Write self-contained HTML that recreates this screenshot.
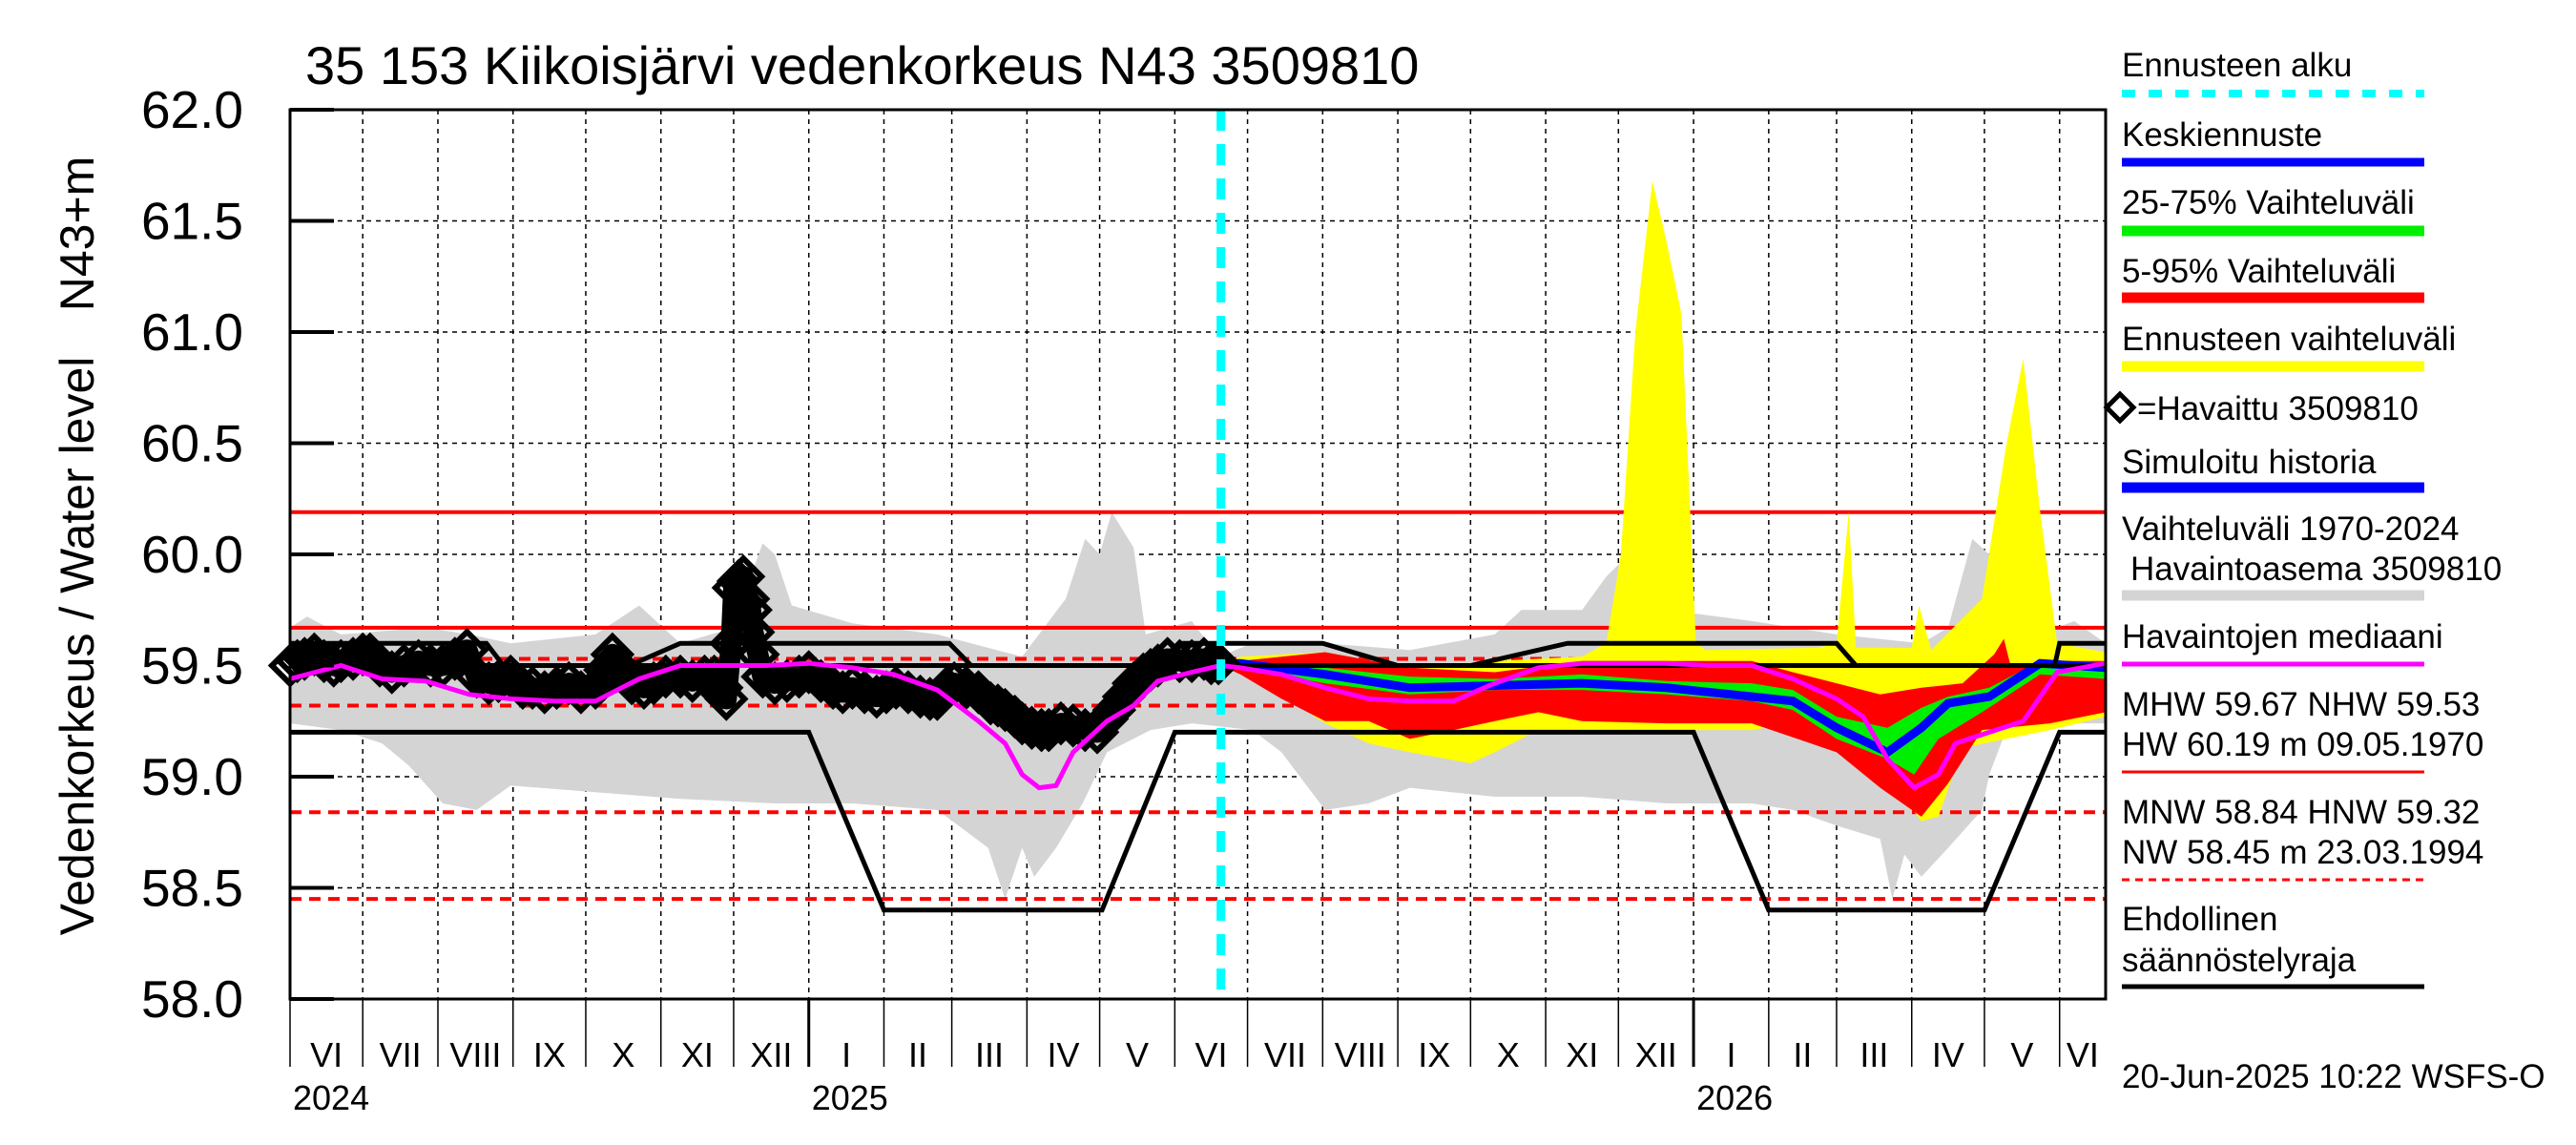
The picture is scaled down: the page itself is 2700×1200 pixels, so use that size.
<!DOCTYPE html>
<html><head><meta charset="utf-8"><style>
html,body{margin:0;padding:0;background:#fff;}
svg{display:block;font-family:"Liberation Sans",Arial,sans-serif;}
</style></head><body>
<svg id="chart" width="2700" height="1200" viewBox="0 0 2700 1200" xmlns="http://www.w3.org/2000/svg">
<rect width="2700" height="1200" fill="#fff"/>
<text x="320" y="88" font-size="56">35 153 Kiikoisjärvi vedenkorkeus N43 3509810</text>
<text transform="translate(98,677) rotate(-90)" font-size="50" text-anchor="middle">Vedenkorkeus / Water level</text>
<text transform="translate(98,245) rotate(-90)" font-size="50" text-anchor="middle">N43+m</text>
<g id="grid"></g>
<g id="series"></g>
<g id="axes"></g>
<g id="legend"></g>
</svg>
<script>
// ---- data (day offsets from 2024-06-01, water level N43+m) ----
const yTicks = [58.0,58.5,59.0,59.5,60.0,60.5,61.0,61.5,62.0];
const monthLabels = ["I","II","III","IV","V","VI","VII","VIII","IX","X","XI","XII"];
const refSolid = [60.19,59.67];
const refDashed = [59.53,59.32,58.84,58.45];
const forecastStartDay = 384;
const histUpper = [[0,59.67],[7,59.72],[21,59.64],[56,59.67],[74,59.64],[91,59.60],[126,59.64],[144,59.77],[161,59.60],[183,59.67],[190,59.90],[195,60.05],[200,60.0],[207,59.77],[232,59.69],[267,59.64],[302,59.54],[320,59.80],[328,60.07],[334,60.0],[339,60.19],[348,60.03],[353,59.64],[372,59.70],[383,59.54],[397,59.60],[427,59.60],[462,59.57],[497,59.64],[508,59.75],[533,59.75],[543,59.90],[557,60.05],[564,60.0],[575,59.74],[603,59.70],[638,59.64],[673,59.60],[684,59.67],[694,60.07],[701,60.0],[707,60.19],[715,60.03],[722,59.64],[736,59.70],[749,59.60]];
const histLower = [[0,59.24],[21,59.21],[38,59.15],[49,59.05],[63,58.88],[77,58.85],[91,58.96],[126,58.93],[161,58.90],[200,58.88],[232,58.88],[267,58.85],[277,58.77],[288,58.68],[295,58.45],[302,58.68],[307,58.55],[316,58.68],[327,58.88],[337,59.11],[355,59.21],[372,59.24],[397,59.21],[409,59.11],[427,58.85],[445,58.88],[462,58.95],[497,58.91],[533,58.91],[568,58.88],[603,58.88],[620,58.85],[638,58.78],[656,58.72],[661,58.45],[666,58.65],[673,58.55],[684,58.68],[698,58.85],[701,59.01],[708,59.21],[726,59.24],[749,59.24]];
const yellowUpper = [[384,59.51],[392,59.54],[427,59.56],[462,59.49],[497,59.52],[533,59.54],[543,59.60],[549,60.0],[555,61.0],[562,61.68],[568,61.4],[574,61.08],[580,59.60],[584,59.57],[630,59.58],[638,59.60],[643,60.19],[646,59.58],[669,59.58],[672,59.77],[677,59.57],[698,59.8],[708,60.49],[715,60.88],[722,60.19],[729,59.60],[749,59.56]];
const yellowLower = [[384,59.50],[392,59.49],[427,59.24],[445,59.15],[462,59.11],[487,59.06],[497,59.11],[515,59.21],[533,59.21],[603,59.21],[620,59.24],[638,59.21],[659,59.01],[673,58.80],[680,58.82],[690,59.13],[708,59.17],[726,59.21],[749,59.27]];
const redUpper = [[384,59.51],[392,59.52],[427,59.56],[462,59.49],[497,59.47],[533,59.52],[568,59.52],[603,59.52],[620,59.47],[638,59.42],[656,59.37],[673,59.40],[690,59.42],[703,59.55],[707,59.62],[710,59.49],[726,59.52],[749,59.52]];
const redLower = [[384,59.50],[392,59.46],[409,59.35],[427,59.25],[445,59.25],[462,59.17],[480,59.21],[497,59.25],[515,59.29],[533,59.25],[568,59.24],[603,59.24],[638,59.11],[656,58.95],[673,58.82],[684,58.97],[698,59.21],[726,59.24],[749,59.29]];
const greenUpper = [[384,59.51],[392,59.52],[427,59.49],[462,59.45],[497,59.44],[533,59.46],[568,59.43],[603,59.42],[620,59.39],[638,59.27],[659,59.22],[673,59.31],[684,59.36],[701,59.40],[722,59.52],[749,59.49]];
const greenLower = [[384,59.50],[392,59.49],[427,59.42],[462,59.37],[497,59.39],[533,59.39],[568,59.37],[603,59.34],[620,59.30],[638,59.17],[659,59.08],[670,59.01],[680,59.17],[698,59.29],[722,59.46],[749,59.44]];
const forecastMedian = [[384,59.51],[392,59.51],[427,59.46],[462,59.40],[497,59.41],[533,59.42],[568,59.40],[603,59.36],[620,59.34],[638,59.22],[659,59.11],[673,59.22],[684,59.33],[701,59.36],[722,59.51],[749,59.49]];
const observed = [[0,59.50],[3,59.52],[6,59.53],[10,59.55],[14,59.52],[18,59.50],[21,59.52],[26,59.53],[30,59.55],[33,59.55],[37,59.50],[42,59.47],[47,59.50],[53,59.52],[58,59.50],[63,59.50],[68,59.53],[73,59.57],[77,59.45],[82,59.42],[86,59.43],[91,59.45],[96,59.40],[100,59.40],[105,59.38],[110,59.40],[115,59.42],[120,59.38],[126,59.40],[130,59.48],[133,59.55],[137,59.48],[141,59.42],[146,59.40],[150,59.42],[155,59.45],[161,59.45],[166,59.43],[171,59.45],[175,59.45],[178,59.40],[180,59.35],[182,59.60],[183,59.85],[185,59.88],[187,59.90],[189,59.80],[190,59.75],[191,59.65],[193,59.55],[195,59.45],[200,59.42],[205,59.43],[210,59.45],[214,59.47],[219,59.43],[224,59.40],[228,59.38],[232,59.40],[237,59.38],[242,59.36],[246,59.38],[250,59.40],[255,59.38],[260,59.36],[264,59.35],[267,59.35],[271,59.40],[274,59.42],[279,59.40],[284,59.38],[289,59.33],[292,59.32],[295,59.30],[299,59.27],[302,59.24],[306,59.22],[310,59.21],[313,59.21],[318,59.24],[323,59.23],[328,59.21],[333,59.20],[337,59.26],[340,59.30],[344,59.36],[348,59.42],[352,59.46],[355,59.48],[358,59.50],[362,59.53],[367,59.52],[372,59.52],[377,59.53],[380,59.51],[383,59.51]];
const median = [[0,59.44],[21,59.50],[38,59.44],[56,59.43],[74,59.37],[91,59.35],[109,59.34],[126,59.34],[144,59.44],[161,59.50],[179,59.50],[196,59.50],[214,59.51],[232,59.49],[249,59.46],[267,59.39],[284,59.25],[295,59.15],[302,59.01],[309,58.95],[316,58.96],[323,59.11],[337,59.25],[348,59.32],[358,59.43],[372,59.47],[384,59.50],[392,59.49],[409,59.46],[427,59.40],[445,59.35],[462,59.34],[480,59.34],[497,59.42],[515,59.49],[533,59.51],[550,59.51],[568,59.51],[585,59.50],[603,59.50],[620,59.44],[638,59.35],[649,59.27],[659,59.08],[670,58.95],[680,59.01],[687,59.15],[701,59.20],[715,59.25],[729,59.47],[749,59.51]];
const regUpper = [[0,59.6],[81,59.6],[88,59.5],[140,59.5],[161,59.6],[272,59.6],[281,59.5],[365,59.5],[367,59.6],[426,59.6],[457,59.5],[487,59.5],[527,59.6],[638,59.6],[646,59.5],[728,59.5],[730,59.6],[749,59.6]];
const regMid = [[0,59.5],[749,59.5]];
const regLower = [[0,59.2],[214,59.2],[245,58.4],[335,58.4],[365,59.2],[579,59.2],[610,58.4],[699,58.4],[730,59.2],[749,59.2]];

// ---- scales ----
const X0=304, X1=2207, Y0=115, Y1=1047, NDAYS=749;
const xd = d => X0 + d*(X1-X0)/NDAYS;
const yv = v => Y0 + (62-v)*(Y1-Y0)/4;
const NS="http://www.w3.org/2000/svg";
function mk(parent,tag,attrs,txt){const e=document.createElementNS(NS,tag);for(const k in attrs)e.setAttribute(k,attrs[k]);if(txt!==undefined)e.textContent=txt;parent.appendChild(e);return e;}
const pts = a => a.map(p=>xd(p[0]).toFixed(1)+","+yv(p[1]).toFixed(1)).join(" ");
const band = (u,l) => pts(u)+" "+pts(l.slice().reverse());
const grid=document.getElementById('grid'), S=document.getElementById('series'), A=document.getElementById('axes'), L=document.getElementById('legend');

const start=Date.UTC(2024,5,1);
const months=[];
for(let i=0;i<=25;i++){const t=Date.UTC(2024,5+i,1);const d=(t-start)/864e5;const m=new Date(t).getUTCMonth();const y=new Date(t).getUTCFullYear();if(d<=NDAYS)months.push({d,m,y});}
yTicks.forEach(v=>{if(v>58&&v<62){const g=mk(grid,'line',{x1:X0,x2:X1,y1:yv(v),y2:yv(v),stroke:'#000','stroke-width':1.5,'stroke-dasharray':'5 5'});

}});
months.forEach(o=>{if(o.d>0){const g=mk(grid,'line',{x1:xd(o.d),x2:xd(o.d),y1:Y0,y2:Y1,stroke:'#000','stroke-width':1.5,'stroke-dasharray':'5 5'});

}});

let e;
e=mk(S,'polygon',{points:band(histUpper,histLower),fill:'#d4d4d4'});


refSolid.forEach(v=>{const l=mk(S,'line',{x1:X0,x2:X1,y1:yv(v),y2:yv(v),stroke:'#f00','stroke-width':4});

});
refDashed.forEach(v=>{const l=mk(S,'line',{x1:X0,x2:X1,y1:yv(v),y2:yv(v),stroke:'#f00','stroke-width':4,'stroke-dasharray':'12 8'});

});
e=mk(S,'polygon',{points:band(yellowUpper,yellowLower),fill:'#ffff00'});


e=mk(S,'polygon',{points:band(redUpper,redLower),fill:'#ff0000'});


e=mk(S,'polygon',{points:band(greenUpper,greenLower),fill:'#00ee00'});


e=mk(S,'polyline',{points:pts(forecastMedian),fill:'none',stroke:'#0000ff','stroke-width':9});


[[regUpper,'regulation-upper-line'],[regMid,'regulation-mid-line'],[regLower,'regulation-lower-line']].forEach(r=>{const l=mk(S,'polyline',{points:pts(r[0]),fill:'none',stroke:'#000','stroke-width':5});

});
e=mk(S,'polyline',{points:pts(observed),fill:'none',stroke:'#0000ff','stroke-width':9});


e=mk(S,'polyline',{points:pts(observed),fill:'none',stroke:'#000','stroke-width':22,'stroke-linejoin':'round'});


observed.forEach(p=>{const cx=xd(p[0]),cy=yv(p[1]),r=19;const dm=mk(S,'polygon',{points:`${cx},${cy-r} ${cx+r},${cy} ${cx},${cy+r} ${cx-r},${cy}`,fill:'none',stroke:'#000','stroke-width':6});

});
e=mk(S,'polyline',{points:pts(median),fill:'none',stroke:'#ff00ff','stroke-width':5});


e=mk(S,'line',{x1:xd(forecastStartDay),x2:xd(forecastStartDay),y1:Y0,y2:Y1,stroke:'#00ffff','stroke-width':9,'stroke-dasharray':'22 14'});



e=mk(A,'rect',{x:X0,y:Y0,width:X1-X0,height:Y1-Y0,fill:'none',stroke:'#000','stroke-width':3});


yTicks.forEach(v=>{const t=mk(A,'line',{x1:X0,x2:X0+46,y1:yv(v),y2:yv(v),stroke:'#000','stroke-width':4});


const tl=mk(A,'text',{x:255,y:yv(v)+19,'font-size':55,'text-anchor':'end'},v.toFixed(1));

});
months.forEach((o,i)=>{const yr=o.m===0;const t=mk(A,'line',{x1:xd(o.d),x2:xd(o.d),y1:Y1,y2:1118,stroke:'#000','stroke-width':yr?3:1.5});


const nd=(i+1<months.length)?months[i+1].d:NDAYS;if(nd-o.d<5)return;
const ml=mk(A,'text',{x:(xd(o.d)+xd(nd))/2,y:1118,'font-size':36,'text-anchor':'middle'},monthLabels[o.m]);


if(yr||i===0){const yl=mk(A,'text',{x:xd(o.d)+3,y:1163,'font-size':36},String(o.y));

}});

const LX=2224, LX2=2541;
function ltxt(y,s,name){const t=mk(L,'text',{x:LX,y:y,'font-size':35},s);}
function lline(y,col,w,dash,name){const l=mk(L,'line',{x1:LX,x2:LX2,y1:y,y2:y,stroke:col,'stroke-width':w});if(dash)l.setAttribute('stroke-dasharray',dash);}
ltxt(80,'Ennusteen alku','legend-forecast-start');lline(98,'#00ffff',8,'14 14','legend-forecast-start-swatch');
ltxt(153,'Keskiennuste','legend-median-forecast');lline(170,'#0000ff',9,null,'legend-median-forecast-swatch');
ltxt(224,'25-75% Vaihteluväli','legend-25-75');lline(242,'#00ee00',11,null,'legend-25-75-swatch');
ltxt(296,'5-95% Vaihteluväli','legend-5-95');lline(312,'#ff0000',11,null,'legend-5-95-swatch');
ltxt(367,'Ennusteen vaihteluväli','legend-forecast-range');lline(384,'#ffff00',11,null,'legend-forecast-range-swatch');
e=mk(L,'polygon',{points:'2222,413 2236,427 2222,441 2208,427',fill:'none',stroke:'#000','stroke-width':5});


const ht=mk(L,'text',{x:2240,y:440,'font-size':35},'=Havaittu 3509810');


ltxt(496,'Simuloitu historia','legend-simulated');lline(511,'#0000ff',11,null,'legend-simulated-swatch');
ltxt(566,'Vaihteluväli 1970-2024','legend-hist-range');ltxt(608,' Havaintoasema 3509810','legend-hist-station');
L.lastChild.setAttribute('x',LX+9);
lline(624,'#d4d4d4',11,null,'legend-hist-range-swatch');
ltxt(679,'Havaintojen mediaani','legend-median');lline(696,'#ff00ff',5,null,'legend-median-swatch');
ltxt(750,'MHW  59.67 NHW  59.53','legend-mhw');ltxt(792,'HW  60.19 m 09.05.1970','legend-hw');lline(809,'#ff0000',3,null,'legend-hw-swatch');
ltxt(863,'MNW  58.84 HNW  59.32','legend-mnw');ltxt(905,'NW  58.45 m 23.03.1994','legend-nw');lline(922,'#ff0000',3,'8 6','legend-nw-swatch');
ltxt(975,'Ehdollinen','legend-regulation-1');ltxt(1018,'säännöstelyraja','legend-regulation-2');lline(1034,'#000',5,null,'legend-regulation-swatch');
ltxt(1140,'20-Jun-2025 10:22 WSFS-O','footer-timestamp');
</script>
</body></html>
